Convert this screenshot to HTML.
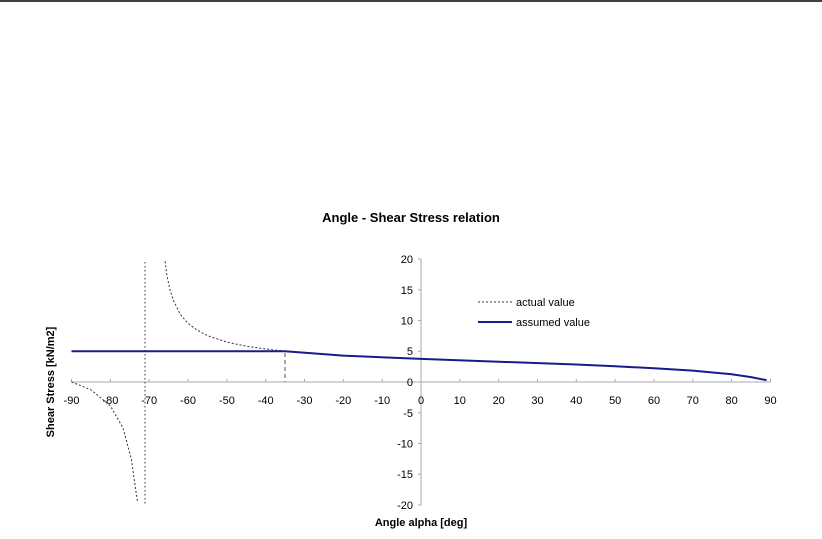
<!DOCTYPE html>
<html><head><style>
body{margin:0;background:#fff;}
svg{display:block;font-family:"Liberation Sans",Arial,sans-serif;}
</style></head><body>
<svg width="822" height="539" viewBox="0 0 822 539" xmlns="http://www.w3.org/2000/svg">
<rect width="822" height="539" fill="#fff"/>
<line x1="0" y1="1" x2="822" y2="1" stroke="#000" stroke-width="1.5"/>
<text x="411" y="222" font-size="13" font-weight="bold" text-anchor="middle">Angle - Shear Stress relation</text>
<text transform="translate(54,382) rotate(-90)" font-size="11" font-weight="bold" text-anchor="middle">Shear Stress [kN/m2]</text>
<text x="421" y="526" font-size="11" font-weight="bold" text-anchor="middle">Angle alpha [deg]</text>
<g stroke="#aaa" stroke-width="1">
<line x1="421" y1="259" x2="421" y2="505"/>
<line x1="71.5" y1="382" x2="770.5" y2="382"/>
<path d="M71.5 382v-3M110.4 382v-3M149.2 382v-3M188 382v-3M226.9 382v-3M265.7 382v-3M304.5 382v-3M343.3 382v-3M382.2 382v-3M421 382v-3M459.8 382v-3M498.7 382v-3M537.5 382v-3M576.3 382v-3M615.2 382v-3M654 382v-3M692.8 382v-3M731.6 382v-3M770.5 382v-3"/>
<path d="M418 259h3M418 289.75h3M418 320.5h3M418 351.25h3M418 382h3M418 412.75h3M418 443.5h3M418 474.25h3M418 505h3"/>
</g>
<g font-size="11" text-anchor="middle">
<text x="71.5" y="404">-90</text><text x="110.4" y="404">-80</text><text x="149.2" y="404">-70</text><text x="188" y="404">-60</text><text x="226.9" y="404">-50</text><text x="265.7" y="404">-40</text><text x="304.5" y="404">-30</text><text x="343.3" y="404">-20</text><text x="382.2" y="404">-10</text><text x="421" y="404">0</text><text x="459.8" y="404">10</text><text x="498.7" y="404">20</text><text x="537.5" y="404">30</text><text x="576.3" y="404">40</text><text x="615.2" y="404">50</text><text x="654" y="404">60</text><text x="692.8" y="404">70</text><text x="731.6" y="404">80</text><text x="770.5" y="404">90</text>
</g>
<g font-size="11" text-anchor="end">
<text x="413" y="263">20</text><text x="413" y="294">15</text><text x="413" y="324.5">10</text><text x="413" y="355">5</text><text x="413" y="386">0</text><text x="413" y="417">-5</text><text x="413" y="447.5">-10</text><text x="413" y="478">-15</text><text x="413" y="509">-20</text>
</g>
<line x1="145" y1="262" x2="145" y2="505" stroke="#555" stroke-width="1.2" stroke-dasharray="1.5,2.5"/>
<line x1="285" y1="353" x2="285" y2="382" stroke="#888" stroke-width="1.5" stroke-dasharray="4,3"/>
<path d="M285.1 351.2L265.7 349L246.3 346.2L226.9 342.1L207.4 335.6L195.8 329.3L188 323.3L180.3 314.4L173.5 300.5L170 290L166.8 275L165 260" fill="none" stroke="#333" stroke-width="1" stroke-dasharray="2,2"/>
<path d="M71.5 382L91 389.8L110.4 405.9L123 427.9L131.5 459.8L135.8 490.7L137.7 503" fill="none" stroke="#333" stroke-width="1" stroke-dasharray="2,2"/>
<path d="M71.5 351.25L285.1 351.25L343.3 355.6L421 358.9L498.7 361.7L576.3 364.5L615.2 366.3L654 368.2L692.8 370.6L731.6 374.3L751.1 377.1L766.6 380.2" fill="none" stroke="#1a1a8a" stroke-width="2"/>
<line x1="478" y1="302" x2="512" y2="302" stroke="#333" stroke-dasharray="2,2"/>
<text x="516" y="306" font-size="11">actual value</text>
<line x1="478" y1="322" x2="512" y2="322" stroke="#1a1a8a" stroke-width="2"/>
<text x="516" y="326" font-size="11">assumed value</text>
</svg>
</body></html>
